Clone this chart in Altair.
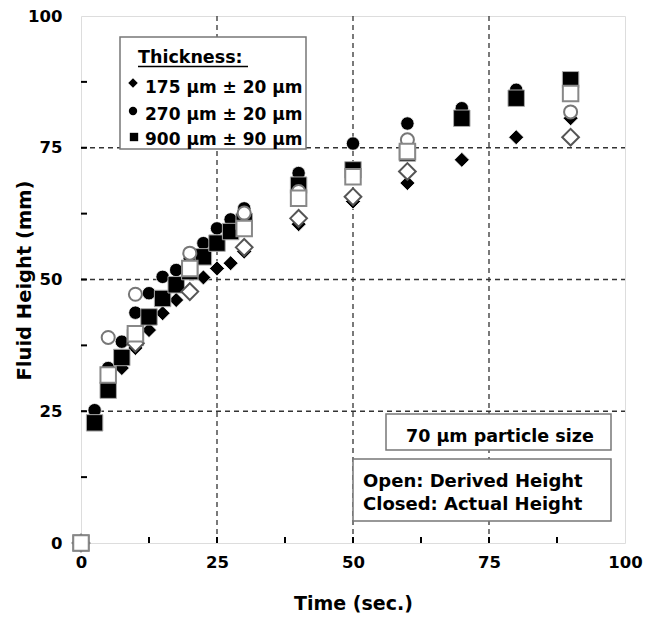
import altair as alt
import pandas as pd

# ---------------- data ----------------
# Closed symbols: actual height; open symbols: derived height
t_175_closed = [0, 2.5, 5, 7.5, 10, 12.5, 15, 17.5, 20, 22.5, 25, 27.5, 30, 40, 50, 60, 70, 80, 90]
h_175_closed = [0, 24.0, 30.5, 33.2, 37.0, 40.4, 43.6, 46.1, 48.0, 50.4, 52.1, 53.1, 55.3, 60.5, 64.8, 68.3, 72.7, 77.0, 80.6]

t_270_closed = [0, 2.5, 5, 7.5, 10, 12.5, 15, 17.5, 20, 22.5, 25, 27.5, 30, 40, 50, 60, 70, 80, 90]
h_270_closed = [0, 25.2, 33.2, 38.2, 43.7, 47.4, 50.5, 51.8, 54.0, 56.9, 59.7, 61.4, 63.5, 70.2, 75.8, 79.6, 82.5, 86.0, 86.5]

t_900_closed = [0, 2.5, 5, 7.5, 10, 12.5, 15, 17.5, 20, 22.5, 25, 27.5, 30, 40, 50, 60, 70, 80, 90]
h_900_closed = [0, 22.8, 29.0, 35.2, 39.0, 42.9, 46.4, 49.0, 51.5, 54.3, 56.9, 59.1, 61.0, 67.9, 70.8, 74.0, 80.6, 84.4, 87.9]

t_175_open = [0, 10, 20, 30, 40, 50, 60, 90]
h_175_open = [0, 37.9, 47.7, 56.1, 61.6, 65.7, 70.5, 77.0]

t_270_open = [0, 5, 10, 20, 30, 40, 60, 90]
h_270_open = [0, 39.0, 47.2, 55.0, 62.6, 66.7, 76.5, 81.8]

t_900_open = [0, 5, 10, 20, 30, 40, 50, 60, 90]
h_900_open = [0, 31.9, 39.7, 52.1, 59.7, 65.4, 69.5, 74.3, 85.3]

axis_values = [0, 25, 50, 75, 100]
grid_values = [25, 50, 75]
minor_ticks = [12.5, 25, 37.5, 50, 62.5, 75, 87.5]

legend_title = "Thickness:"
legend_labels = ["175 µm ± 20 µm", "270 µm ± 20 µm", "900 µm ± 90 µm"]
note_size = "70 µm particle size"
note_lines = ["Open: Derived Height", "Closed: Actual Height"]

# ---------------- layout ----------------
W, H = 544, 527
FONT = "DejaVu Sans"

xscale = alt.Scale(domain=[0, 100], nice=False, zero=False)
yscale = alt.Scale(domain=[0, 100], nice=False, zero=False)

xaxis = alt.Axis(values=axis_values, title="Time (sec.)", grid=False, domain=False, ticks=False,
                 labelFont=FONT, labelFontWeight="bold", labelFontSize=16.5, labelColor="black",
                 labelPadding=11, labelFlush=False, labelOverlap=False,
                 titleFont=FONT, titleFontWeight="bold", titleFontSize=19, titleColor="black",
                 titleX=272, titleY=66, titleBaseline="alphabetic", titleAlign="center")
yaxis = alt.Axis(values=axis_values, title="Fluid Height (mm)", grid=False, domain=False, ticks=False,
                 labelFont=FONT, labelFontWeight="bold", labelFontSize=16.5, labelColor="black",
                 labelPadding=19, labelFlush=False, labelOverlap=False,
                 titleFont=FONT, titleFontWeight="bold", titleFontSize=19.5, titleColor="black",
                 titleAngle=270, titleX=-51, titleY=264, titleBaseline="alphabetic", titleAlign="center")

X = alt.X("t:Q", scale=xscale, axis=xaxis)
Y = alt.Y("h:Q", scale=yscale, axis=yaxis)

layers = []

# gridlines
gdf = pd.DataFrame({"v": grid_values})
layers.append(alt.Chart(gdf).mark_rule(color="#333", strokeWidth=1.3, strokeDash=[5, 4]).encode(
    x=alt.X("v:Q", scale=xscale, axis=xaxis), y=alt.value(0), y2=alt.value(H)))
layers.append(alt.Chart(gdf).mark_rule(color="#333", strokeWidth=1.3, strokeDash=[5, 4]).encode(
    y=alt.Y("v:Q", scale=yscale, axis=yaxis), x=alt.value(0), x2=alt.value(W)))

# inward minor ticks
tdf = pd.DataFrame({"v": minor_ticks})
layers.append(alt.Chart(tdf).mark_rule(color="black", strokeWidth=2).encode(
    x=alt.X("v:Q", scale=xscale, axis=xaxis), y=alt.value(H - 6), y2=alt.value(H)))
layers.append(alt.Chart(tdf).mark_rule(color="black", strokeWidth=2).encode(
    y=alt.Y("v:Q", scale=yscale, axis=yaxis), x=alt.value(0), x2=alt.value(6)))

# boxes
def box(x1, x2, y1, y2):
    return alt.Chart(pd.DataFrame({"a": [0]})).mark_rect(
        fill="white", stroke="#777", strokeWidth=1.5).encode(
        x=alt.value(x1), x2=alt.value(x2), y=alt.value(y1), y2=alt.value(y2))

layers.append(box(39, 225, 21, 133))
layers.append(box(305, 530, 398, 434))
layers.append(box(272, 530, 443, 505))

def txt(s, x, y, size=17):
    return alt.Chart(pd.DataFrame({"a": [0]})).mark_text(
        text=s, align="left", baseline="alphabetic", font=FONT, fontWeight="bold",
        fontSize=size, color="black").encode(x=alt.value(x), y=alt.value(y))

layers.append(txt(legend_title, 57, 46.5, 17.5))
layers.append(alt.Chart(pd.DataFrame({"a": [0]})).mark_rule(color="black", strokeWidth=1.5).encode(
    x=alt.value(57), x2=alt.value(167), y=alt.value(50.5)))
for lab, yy in zip(legend_labels, [76.5, 103.5, 129]):
    layers.append(txt(lab, 64, yy))

def lmark(shape, size, x, y):
    return alt.Chart(pd.DataFrame({"a": [0]})).mark_point(
        shape=shape, size=size, filled=True, fill="black", stroke="black", strokeWidth=0, opacity=1).encode(
        x=alt.value(x), y=alt.value(y))

layers.append(lmark("diamond", 90, 52, 67))
layers.append(lmark("circle", 70, 52, 95))
layers.append(lmark("square", 70, 53, 121))

layers.append(txt(note_size, 325, 425.5, 17.5))
layers.append(txt(note_lines[0], 282, 471, 18))
layers.append(txt(note_lines[1], 282, 494, 18))

# data points
def pts(t, h, shape, size, fill, stroke, sw):
    df = pd.DataFrame({"t": t, "h": h})
    return alt.Chart(df).mark_point(shape=shape, size=size, filled=True, fill=fill,
                                    stroke=stroke, strokeWidth=sw, opacity=1).encode(x=X, y=Y)

layers.append(pts(t_175_closed, h_175_closed, "diamond", 225, "black", "white", 0.8))
layers.append(pts(t_270_closed, h_270_closed, "circle", 180, "black", "white", 0.8))
layers.append(pts(t_900_closed, h_900_closed, "square", 270, "black", "#aaa", 1))
layers.append(pts(t_175_open, h_175_open, "diamond", 280, "white", "#555", 2))
layers.append(pts(t_270_open, h_270_open, "circle", 170, "white", "#777", 2))
layers.append(pts(t_900_open, h_900_open, "square", 240, "white", "#888", 2))

chart = alt.layer(*layers).properties(
    width=W, height=H,
    autosize=alt.AutoSizeParams(type="none"),
    padding={"left": 81, "top": 16, "right": 21, "bottom": 81},
).configure_view(stroke="black", strokeWidth=3).configure(background="white")

chart.save("out.html", embed_options={"renderer": "svg", "actions": False})
